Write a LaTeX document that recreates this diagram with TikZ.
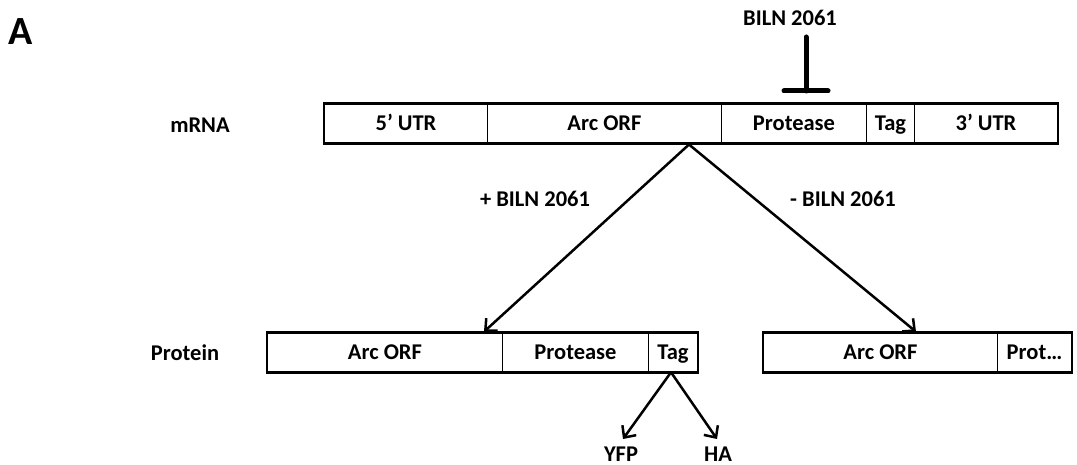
\documentclass[tikz,border=0pt]{standalone}
\usepackage{fontspec}
\setmainfont{Carlito}
\usetikzlibrary{arrows.meta}
\begin{document}
\begin{tikzpicture}[x=1pt,y=-1pt,
  txt/.style={font=\bfseries\fontsize{22.5}{26}\selectfont},
  lbl/.style={txt, inner sep=0pt},
  seg/.style={txt, draw, line width=1pt, inner sep=0pt, minimum height=38.5pt, anchor=west, text height=14pt, text depth=0pt},
  outer/.style={draw, line width=2.6pt},
  arr/.style={line width=2.5pt, -{Straight Barb[length=9pt,width=17pt,line width=2.5pt]}},
  inhib/.style={line width=5pt, line cap=round}]
\useasboundingbox (0,0) rectangle (1077,465);
\node[font=\bfseries\fontsize{40}{46}\selectfont, inner sep=0pt] (A) at (21,32) {A};
% mRNA
\node[lbl] (mrna) at (200,125) {mRNA};
\node[seg, minimum width=163pt] (utr5) at (324,123.5) {5’ UTR};
\node[seg, minimum width=234pt] (arc) at (487,123.5) {Arc ORF};
\node[seg, minimum width=145pt] (prot) at (721,123.5) {Protease};
\node[seg, minimum width=48pt] (tag) at (866,123.5) {Tag};
\node[seg, minimum width=143pt] (utr3) at (914,123.5) {3’ UTR};
\draw[outer] (utr5.north west) rectangle (utr3.south east);
% inhibitor
\node[lbl] (biln) at (790,18) {BILN 2061};
\coordinate (itop) at (806,37);
\coordinate (ibot) at (806,91);
\coordinate (il) at (784,91);
\coordinate (ir) at (828,91);
\draw[inhib] (itop) -- (ibot);
\draw[inhib] (il) -- (ir);
% branch
\coordinate (apex) at (689,144.5);
\node[lbl] (plus) at (535,199) {+ BILN 2061};
\node[lbl] (minus) at (843,199) {- BILN 2061};
% protein 1
\node[lbl] (protein) at (185,353) {Protein};
\node[seg, minimum width=235pt] (parc) at (267,352.5) {Arc ORF};
\node[seg, minimum width=146pt] (pprot) at (502,352.5) {Protease};
\node[seg, minimum width=49pt] (ptag) at (648,352.5) {Tag};
\draw[outer] (parc.north west) rectangle (ptag.south east);
% protein 2
\node[seg, minimum width=234pt] (qarc) at (763,352.5) {Arc ORF};
\node[seg, minimum width=74pt] (qprot) at (997,352.5) {Prot…};
\draw[outer] (qarc.north west) rectangle (qprot.south east);
\draw[arr] (apex) -- ([xshift=-19pt,yshift=1pt]parc.north east);
\draw[arr] (apex) -- ([xshift=-82pt,yshift=1pt]qarc.north east);
% tag split
\coordinate (tapex) at ([xshift=-2pt]ptag.south);
\node[lbl, anchor=base] (yfp) at (621,461) {YFP};
\node[lbl, anchor=base] (ha) at (718,461) {HA};
\draw[arr] (tapex) -- ([xshift=2pt,yshift=22pt]yfp.base);
\draw[arr] (tapex) -- ([xshift=-1pt,yshift=22pt]ha.base);
\end{tikzpicture}
\end{document}
